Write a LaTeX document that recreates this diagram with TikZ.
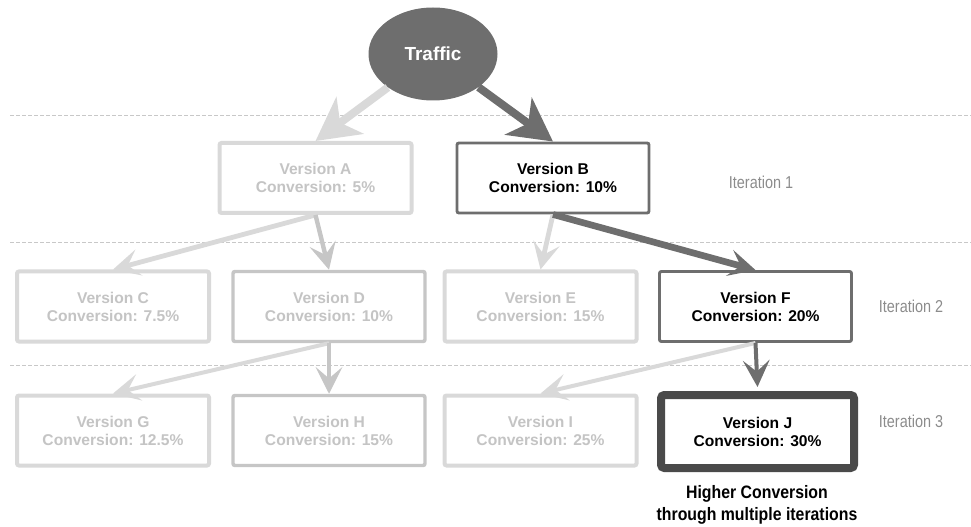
\documentclass[tikz,border=0pt]{standalone}
\usepackage{fontspec}
\setmainfont{Liberation Sans}
\newfontfamily\narrowfont[FakeStretch=0.84]{Liberation Sans}
\newfontfamily\narrowboldfont[FakeStretch=0.88]{Liberation Sans Bold}
\usetikzlibrary{arrows.meta,shapes.geometric}

\definecolor{paleline}{HTML}{D9D9D9}
\definecolor{midline}{HTML}{C6C6C6}
\definecolor{paletext}{HTML}{C4C4C4}
\definecolor{darkline}{HTML}{6E6E6E}
\definecolor{winline}{HTML}{4A4A4A}
\definecolor{guide}{HTML}{C8C8C8}
\definecolor{itertext}{HTML}{8C8C8C}

\tikzset{
  vbox/.style={draw, rectangle, rounded corners=1.5pt, fill=white,
    minimum width=192*0.75pt, minimum height=70*0.75pt, inner sep=0pt,
    align=center, font=\bfseries\fontsize{11.7pt}{13.5pt}\selectfont},
  palebox/.style={vbox, draw=paleline, line width=3pt, text=paletext},
  midbox/.style={vbox, draw=midline, line width=2.6pt, text=paletext},
  darkbox/.style={vbox, draw=darkline, line width=2.2pt, text=black},
  winbox/.style={vbox, draw=winline, line width=6pt, rounded corners=2.5pt,
    minimum width=193*0.75pt, minimum height=73*0.75pt, text=black},
  guideline/.style={draw=guide, line width=0.75pt, dash pattern=on 3pt off 1.5pt},
  iterlabel/.style={text=itertext, font=\narrowfont\fontsize{12.9pt}{15pt}\selectfont},
  bigtip/.style={-{Stealth[length=32pt, width=34pt, inset=9pt]}},
  smalltip/.style={-{Stealth[length=20pt, width=20pt, inset=8.5pt]}},
  palearrow/.style={smalltip, draw=paleline, line width=3.6pt},
  midarrow/.style={smalltip, draw=midline, line width=3.3pt},
  darkarrow/.style={smalltip, draw=darkline, line width=3.3pt},
}

\begin{document}
\begin{tikzpicture}[x=0.75pt,y=-0.75pt]
  \useasboundingbox (0,0) rectangle (971,527);

  % iteration separators
  \path[guideline] (10,116) -- (971,116);
  \path[guideline] (10,243) -- (971,243);
  \path[guideline] (10,365) -- (971,365);

  % source of traffic
  \node[ellipse, fill=darkline, minimum width=129*0.75pt, minimum height=93*0.75pt,
        inner sep=0pt, text=white, font=\bfseries\fontsize{14.2pt}{16pt}\selectfont]
        (T) at (433,54) {Traffic};

  % iteration 1
  \node[palebox] (A) at (315.5,178) {Version A\\Conversion: 5\%};
  \node[darkbox] (B) at (553,178) {Version B\\Conversion: 10\%};

  % iteration 2
  \node[palebox] (C) at (113,306.5) {Version C\\Conversion: 7.5\%};
  \node[midbox]  (D) at (329,306.5) {Version D\\Conversion: 10\%};
  \node[palebox] (E) at (540.5,306.5) {Version E\\Conversion: 15\%};
  \node[darkbox] (F) at (755.5,306.5) {Version F\\Conversion: 20\%};

  % iteration 3
  \node[palebox] (G) at (113,430.5) {Version G\\Conversion: 12.5\%};
  \node[midbox]  (H) at (329,430.5) {Version H\\Conversion: 15\%};
  \node[palebox] (I) at (540.5,430.5) {Version I\\Conversion: 25\%};
  \node[winbox]  (J) at (757.5,431.5) {Version J\\Conversion: 30\%};

  % iteration labels
  \node[iterlabel] (L1) at (761,182) {Iteration 1};
  \node[iterlabel] (L2) at (911,306) {Iteration 2};
  \node[iterlabel] (L3) at (911,421) {Iteration 3};

  % caption under the winner
  \node[align=center, font=\narrowboldfont\fontsize{13.5pt}{16.5pt}\selectfont]
        (cap) at (757,505) {Higher Conversion\\through multiple iterations};

  % traffic split
  \draw[bigtip, draw=paleline, line width=6pt] (T) -- (A.north);
  \draw[bigtip, draw=darkline, line width=6pt] (T) -- (B.north);

  % from iteration 1
  \draw[palearrow] (A.south) -- (C.north);
  \draw[midarrow]  (A.south) -- (D.north);
  \draw[palearrow] (B.south) -- (E.north);
  \draw[darkarrow, line width=5pt] (B.south) -- (F.north);

  % from iteration 2
  \draw[palearrow, line width=3pt] (D.south) -- (G.north);
  \draw[midarrow, line width=3pt]  (D.south) -- (H.north);
  \draw[palearrow, line width=3pt] (F.south) -- (I.north);
  \draw[darkarrow, line width=3pt] (F.south) -- ([yshift=3pt]J.north);
\end{tikzpicture}
\end{document}
